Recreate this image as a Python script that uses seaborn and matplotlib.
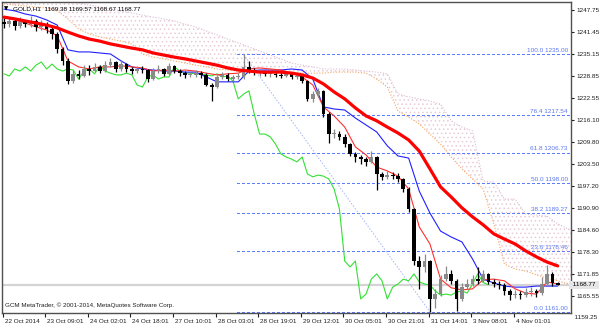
import numpy as np
import pandas as pd
import matplotlib
matplotlib.use("Agg")
import matplotlib.pyplot as plt
import matplotlib.transforms as mtransforms
import seaborn as sns

# ---------------- data (2-hour candles) ----------------
first_open = 1244.3
closes = [1243.7, 1244.6, 1243.2, 1244.3, 1243.7, 1244.6, 1242.9, 1243.7, 1242.3, 1240.9,
          1236.5, 1233.1, 1227.3, 1229.4, 1228.8, 1230.8, 1230.2, 1231.4, 1230.2, 1231.9,
          1232.8, 1230.8, 1232.2, 1230.8, 1230.2, 1230.8, 1230.5, 1227.9, 1230.2, 1230.8,
          1229.4, 1231.7, 1230.2, 1229.6, 1229.1, 1229.1, 1229.6, 1229.1, 1226.2, 1225.6,
          1228.5, 1229.1, 1227.9, 1228.5, 1228.5, 1231.4, 1230.2, 1229.6, 1229.6, 1229.4,
          1229.4, 1229.1, 1228.8, 1229.4, 1228.5, 1228.8, 1227.3, 1222.2, 1223.6, 1224.5,
          1217.9, 1212.1, 1212.1, 1211.3, 1209.2, 1206.4, 1205.5, 1204.9, 1204.1, 1205.5,
          1200.6, 1199.8, 1200.3, 1200.0, 1199.2, 1196.3, 1190.6, 1175.6, 1173.9, 1175.6,
          1164.7, 1166.1, 1170.4, 1171.9, 1169.9, 1164.7, 1168.1, 1169.0, 1170.4, 1169.9,
          1171.9, 1169.6, 1169.0, 1168.7, 1167.0, 1165.8, 1166.1, 1165.8, 1166.7, 1167.0,
          1166.4, 1169.0, 1171.9, 1169.4, 1168.77]
highs = [1245.5, 1245.8, 1245.2, 1245.6, 1245.0, 1246.0, 1245.1, 1244.8, 1244.2, 1243.0,
         1241.5, 1237.0, 1234.0, 1230.5, 1230.4, 1232.0, 1231.8, 1232.6, 1231.9, 1233.0,
         1234.0, 1233.2, 1233.3, 1232.6, 1231.5, 1231.7, 1231.6, 1230.8, 1231.0, 1231.8,
         1231.2, 1232.5, 1232.0, 1230.7, 1230.2, 1230.0, 1230.4, 1230.2, 1229.5, 1226.8,
         1229.2, 1229.8, 1229.5, 1229.0, 1229.6, 1235.0, 1233.0, 1231.0, 1230.4, 1230.2,
         1230.1, 1230.0, 1229.8, 1230.1, 1229.9, 1229.4, 1229.2, 1227.6, 1224.6, 1225.4,
         1224.8, 1218.5, 1213.5, 1213.0, 1212.0, 1209.6, 1207.0, 1206.2, 1205.6, 1207.2,
         1205.8, 1201.2, 1201.6, 1201.3, 1201.0, 1199.6, 1197.0, 1190.9, 1177.0, 1177.5,
         1176.0, 1167.5, 1171.6, 1174.2, 1173.0, 1170.5, 1169.3, 1170.5, 1171.6, 1173.9,
         1173.0, 1172.3, 1170.4, 1169.8, 1169.2, 1167.6, 1167.2, 1167.0, 1167.8, 1168.0,
         1167.6, 1171.0, 1174.6, 1172.5, 1169.57]
lows = [1242.5, 1243.0, 1242.0, 1242.6, 1242.8, 1243.0, 1241.6, 1242.0, 1241.0, 1239.5,
        1235.5, 1232.0, 1226.5, 1226.8, 1227.8, 1228.5, 1229.2, 1229.8, 1229.5, 1229.8,
        1231.3, 1230.0, 1230.3, 1230.0, 1229.4, 1229.6, 1229.5, 1227.0, 1227.5, 1229.6,
        1228.8, 1229.0, 1229.6, 1228.9, 1228.2, 1228.4, 1228.5, 1228.3, 1225.8, 1221.6,
        1225.2, 1228.0, 1227.4, 1227.3, 1227.8, 1228.0, 1229.5, 1229.0, 1228.8, 1228.7,
        1228.6, 1228.5, 1228.2, 1228.4, 1228.0, 1227.9, 1226.8, 1221.6, 1221.2, 1222.8,
        1217.0, 1209.5, 1211.0, 1210.5, 1208.5, 1205.8, 1204.0, 1203.5, 1203.0, 1203.8,
        1196.0, 1199.0, 1199.2, 1199.1, 1198.4, 1195.5, 1189.8, 1174.5, 1167.6, 1172.5,
        1161.0, 1162.0, 1165.5, 1170.0, 1169.0, 1161.3, 1164.0, 1167.5, 1168.5, 1169.0,
        1169.5, 1168.9, 1168.0, 1167.6, 1165.9, 1164.4, 1164.9, 1164.8, 1165.2, 1165.6,
        1165.4, 1165.9, 1168.5, 1168.4, 1168.67]

# indicator lines, one value every 2 candles
ma_slow = [1245.7, 1245.2, 1244.6, 1244.0, 1243.4, 1242.6, 1241.4, 1240.3, 1239.4, 1238.8,
           1238.0, 1237.4, 1236.8, 1236.3, 1235.4, 1234.8, 1234.2, 1233.7, 1233.1, 1232.5,
           1231.9, 1231.1, 1230.5, 1230.2, 1229.9, 1229.9, 1229.9, 1229.6, 1229.1, 1228.2,
           1226.5, 1224.2, 1222.2, 1219.6, 1217.3, 1215.9, 1214.1, 1212.4, 1210.4, 1207.2,
           1202.1, 1196.9, 1194.0, 1190.9, 1188.3, 1186.0, 1183.4, 1181.9, 1180.5, 1178.5,
           1176.8, 1175.3, 1174.2]
tenkan = [1245.7, 1244.9, 1244.0, 1242.9, 1242.0, 1240.3, 1233.1, 1231.4, 1230.8, 1231.4,
          1231.4, 1231.7, 1231.4, 1231.1, 1230.2, 1230.5, 1230.2, 1230.5, 1230.2, 1229.6,
          1229.1, 1229.4, 1229.6, 1230.8, 1231.1, 1230.8, 1230.5, 1229.6, 1228.5, 1226.2,
          1219.9, 1217.3, 1214.1, 1208.4, 1206.1, 1202.6, 1201.5, 1200.0, 1196.3, 1185.4,
          1180.5, 1170.4, 1167.9, 1167.3, 1167.6, 1170.2, 1170.4, 1169.9, 1167.6, 1166.4,
          1166.1, 1169.6, 1169.0]
kijun = [1248.0, 1247.5, 1246.6, 1246.0, 1244.9, 1243.4, 1236.3, 1235.7, 1235.7, 1235.4,
         1235.1, 1233.1, 1231.4, 1230.8, 1230.5, 1230.2, 1230.2, 1229.9, 1229.9, 1228.5,
         1227.1, 1227.1, 1227.1, 1230.2, 1230.5, 1230.5, 1230.5, 1230.8, 1230.5, 1227.9,
         1219.9, 1219.3, 1219.0, 1216.7, 1214.7, 1212.7, 1208.7, 1205.8, 1205.2, 1195.7,
         1189.4, 1184.2, 1182.5, 1181.1, 1176.2, 1170.4, 1169.3, 1168.4, 1168.1, 1168.1,
         1168.4, 1168.4, 1168.4]
cloud_top = [1256.7, 1255.2, 1253.8, 1252.3, 1251.5, 1250.9, 1250.3, 1249.8, 1249.2, 1248.6,
             1248.0, 1247.5, 1246.9, 1246.3, 1245.7, 1245.2, 1244.6, 1243.7, 1242.9, 1241.7,
             1240.6, 1239.4, 1238.3, 1237.1, 1236.0, 1234.8, 1233.7, 1232.5, 1231.9, 1231.4,
             1230.8, 1230.8, 1230.8, 1230.5, 1230.2, 1229.9, 1229.4, 1223.6, 1222.8, 1222.2,
             1221.6, 1220.7, 1215.9, 1214.1, 1213.0, 1198.6, 1198.3, 1193.4, 1193.4, 1189.1,
             1188.8, 1188.5, 1186.3, 1184.8, 1184.2]
cloud_bottom = [1249.5, 1249.2, 1248.9, 1248.6, 1248.3, 1247.5, 1245.2, 1242.3, 1240.9, 1240.0,
                1239.4, 1238.8, 1238.0, 1235.1, 1234.2, 1233.7, 1233.1, 1232.5, 1231.9, 1231.4,
                1230.8, 1230.5, 1230.2, 1230.2, 1229.9, 1229.9, 1229.9, 1229.9, 1229.6, 1229.6,
                1229.6, 1229.9, 1229.9, 1229.9, 1229.6, 1227.9, 1225.6, 1218.7, 1217.0, 1215.0,
                1212.1, 1209.2, 1205.5, 1202.1, 1199.2, 1196.3, 1186.3, 1174.7, 1173.3, 1172.7,
                1171.6, 1170.7, 1169.9, 1169.0, 1168.7]
chikou_shift = 13

fib_levels = [0.0, 23.6, 38.2, 50.0, 61.8, 76.4, 100.0]
fib_prices = [1161.00, 1178.46, 1189.27, 1198.00, 1206.73, 1217.54, 1235.00]
y_ticks = [1247.75, 1241.45, 1235.15, 1228.85, 1222.55, 1216.10, 1209.80, 1203.50,
           1197.20, 1190.90, 1184.60, 1178.30, 1171.85, 1165.55]
y_tick_below = 1159.25
x_labels = ["22 Oct 2014", "23 Oct 09:01", "24 Oct 02:01", "24 Oct 18:01", "27 Oct 10:01",
            "28 Oct 03:01", "28 Oct 19:01", "29 Oct 12:01", "30 Oct 05:01", "30 Oct 21:01",
            "31 Oct 14:01", "3 Nov 08:01", "4 Nov 01:01"]
title_text = "GOLD,H1  1169.38 1169.57 1168.67 1168.77"
copyright_text = "GCM MetaTrader, \u00a9 2001-2014, MetaQuotes Software Corp."
bid = 1168.77

# ---------------- frames ----------------
n = len(closes)
opens = [first_open] + closes[:-1]
candles = pd.DataFrame({"idx": np.arange(n), "open": opens, "high": highs,
                        "low": lows, "close": closes})
ind = pd.DataFrame({"idx": np.arange(len(tenkan)) * 2, "tenkan": tenkan,
                    "kijun": kijun, "ma": ma_slow})
cloud = pd.DataFrame({"idx": np.arange(len(cloud_top)) * 2, "top": cloud_top,
                      "bottom": cloud_bottom})
chikou = pd.DataFrame({"idx": np.arange(n - chikou_shift),
                       "val": closes[chikou_shift:]})

# ---------------- style ----------------
sns.set_style("white")
plt.rcParams['font.family'] = ['Liberation Sans', 'DejaVu Sans']
plt.rcParams['hatch.linewidth'] = 0.6

W, H = 600, 333
fig = plt.figure(figsize=(6, 3.33), dpi=100)
ax = fig.add_axes([2 / W, 1 - 313 / H, (571 - 2) / W, (313 - 2) / H])

xmin, xmax = -0.38, 106.5
ymin, ymax = 1160.66, 1250.05

# bid line
ax.axhline(bid, color="#d4d4d4", lw=1.6, zorder=0)

# cloud
ax.fill_between(cloud["idx"], cloud["top"], cloud["bottom"], facecolor="none",
                edgecolor="#e8ccd8", hatch="....", linewidth=0, zorder=1)
sns.lineplot(data=cloud, x="idx", y="top", ax=ax, color="#dcbcd4", lw=0.8,
             linestyle=(0, (1, 1.5)), zorder=2, legend=False)
sns.lineplot(data=cloud, x="idx", y="bottom", ax=ax, color="#f4a460", lw=0.8,
             linestyle=(0, (1, 1.5)), zorder=2, legend=False)

# fibonacci (anchored on the swing high 100.0 and swing low 0.0)
i_hi = highs.index(fib_prices[-1])
i_lo = lows.index(fib_prices[0])
fib_start = i_hi - 1.2
for lv, pr in zip(fib_levels, fib_prices):
    ax.plot([fib_start, xmax], [pr, pr], color="#5c7dff", linestyle=(0, (2.5, 2.0)),
            lw=0.75, zorder=2, antialiased=False)
    ax.text(xmax - 0.6, pr + 0.35, f"{lv:.1f} {pr:.2f}", ha="right", va="bottom",
            fontsize=4.6, color="#5a78ee", zorder=6)
ax.plot([i_hi, i_lo], [highs[i_hi], lows[i_lo]], color="#a8b8f8",
        linestyle=(0, (1.6, 1.6)), lw=0.7, zorder=2)

# indicators
sns.lineplot(data=chikou, x="idx", y="val", ax=ax, color="#33e033", lw=0.8,
             zorder=3, legend=False)
sns.lineplot(data=ind, x="idx", y="kijun", ax=ax, color="#2020ff", lw=0.8,
             zorder=4, legend=False)
sns.lineplot(data=ind, x="idx", y="tenkan", ax=ax, color="#ff3030", lw=0.8,
             zorder=4, legend=False)

# candles
up = candles["close"] >= candles["open"]
col = np.where(up, "#8a8a8a", "#000000")
ax.vlines(candles["idx"], candles["low"], candles["high"], colors=col, lw=0.9, zorder=5)
body = (candles["close"] - candles["open"]).abs().clip(lower=0.3)
bottom = candles[["open", "close"]].min(axis=1)
ax.bar(candles["idx"], body, bottom=bottom, width=0.7, color=col, linewidth=0, zorder=5)

# slow moving average
sns.lineplot(data=ind, x="idx", y="ma", ax=ax, color="#ff0000", lw=2.3,
             zorder=6, legend=False)

ax.set_xlim(xmin, xmax)
ax.set_ylim(ymin, ymax)
ax.set_xlabel("")
ax.set_ylabel("")

# axes decorations
for s in ax.spines.values():
    s.set_color("#505050")
    s.set_linewidth(1.0)

ax.yaxis.tick_right()
ax.set_yticks(y_ticks)
ax.set_yticklabels([f"{v:.2f}" for v in y_ticks])
ax.tick_params(axis="y", right=True, length=2, width=0.8, pad=2, labelsize=4.6,
               colors="#202020")
xt = [-0.25 + 8 * k for k in range(len(x_labels))]
ax.set_xticks(xt)
ax.set_xticklabels(x_labels)
ax.tick_params(axis="x", bottom=True, length=3, width=0.8, pad=1.5, labelsize=4.6,
               colors="#202020")
off = mtransforms.ScaledTranslation(2 / 100, 0, fig.dpi_scale_trans)
for lbl in ax.get_xticklabels():
    lbl.set_horizontalalignment("left")
    lbl.set_transform(lbl.get_transform() + off)

# tick label below the axis bottom
trans = mtransforms.blended_transform_factory(ax.transAxes, ax.transData)
ax.text(1.0, y_tick_below, f"  {y_tick_below:.2f}", transform=trans, ha="left",
        va="center", fontsize=4.6, color="#202020", clip_on=False)

# bid price label
ax.text(1.0, bid, f" {bid:.2f} ", transform=trans, ha="left", va="center",
        fontsize=4.6, color="#000000", clip_on=False, zorder=10,
        bbox=dict(boxstyle="square,pad=0.25", facecolor="#e6e6e6", edgecolor="none"))

# texts
fig.text(4 / W, 1 - 9 / H, "\u25bc", fontsize=4, va="center", ha="left",
         color="#000000", family=["DejaVu Sans"])
fig.text(13 / W, 1 - 9 / H, title_text, fontsize=4.6, va="center", ha="left",
         color="#000000")
fig.text(5 / W, 1 - 305 / H, copyright_text, fontsize=4.5, va="center", ha="left",
         color="#202020")

fig.savefig("out.png", dpi=100)
